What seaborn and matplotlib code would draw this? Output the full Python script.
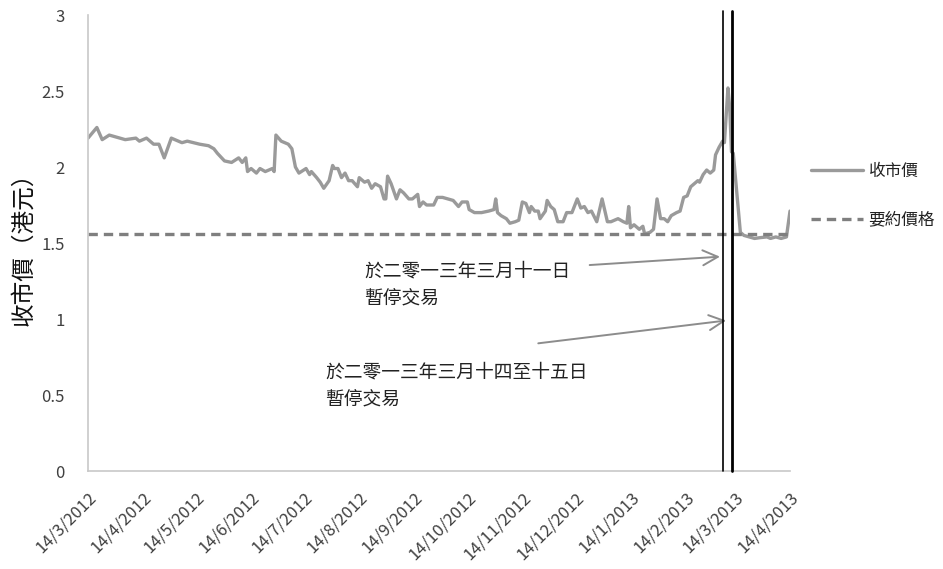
import numpy as np
import pandas as pd
import matplotlib
matplotlib.use("Agg")
import matplotlib.pyplot as plt
import seaborn as sns
from matplotlib.lines import Line2D

# ---- data -------------------------------------------------------------
START = pd.Timestamp("2012-03-14")

# trading day offsets from 14/3/2012 and closing price (HK$)
day_offset = [
    0, 5, 8, 12, 21, 27, 29, 33, 37, 40, 43, 47, 53, 56, 63, 68, 71, 73,
    77, 81, 85, 87, 89, 90, 92, 95, 97, 100, 104, 105, 106, 109, 113, 115,
    117, 119, 123, 125, 126, 129, 131, 133, 136, 138, 139, 141, 143, 145,
    147, 149, 152, 153, 156, 158, 160, 162, 165, 167, 168, 169, 171, 174,
    176, 178, 181, 183, 186, 187, 189, 191, 195, 197, 200, 203, 206, 209,
    211, 214, 215, 218, 222, 226, 229, 230, 231, 233, 236, 238, 241, 243,
    245, 247, 249, 250, 252, 254, 255, 258, 259, 261, 263, 265, 268, 270,
    273, 276, 278, 280, 282, 284, 287, 290, 291, 293, 295, 299, 302, 304,
    305, 306, 308, 311, 313, 314, 317, 319, 321, 323, 325, 327, 329, 332,
    334, 336, 338, 340, 341, 344, 345, 347, 349, 351, 353, 354, 356, 358,
    359, 361, 362, 363, 364, 368, 370, 373, 376, 379, 383, 385, 388, 391,
    394, 396,
]
close_price = [
    2.19, 2.26, 2.18, 2.21, 2.18, 2.19, 2.17, 2.19, 2.15, 2.15, 2.06, 2.19,
    2.16, 2.17, 2.15, 2.14, 2.12, 2.09, 2.04, 2.03, 2.06, 2.03, 2.06, 1.97,
    1.99, 1.96, 1.99, 1.97, 1.99, 1.97, 2.21, 2.17, 2.15, 2.12, 2.00, 1.96,
    1.99, 1.95, 1.97, 1.93, 1.90, 1.86, 1.91, 2.01, 1.99, 1.99, 1.93, 1.96,
    1.91, 1.91, 1.87, 1.93, 1.90, 1.91, 1.86, 1.89, 1.87, 1.79, 1.79, 1.94,
    1.89, 1.79, 1.85, 1.83, 1.79, 1.79, 1.82, 1.74, 1.77, 1.75, 1.75, 1.80,
    1.80, 1.79, 1.78, 1.74, 1.77, 1.77, 1.72, 1.70, 1.70, 1.71, 1.72, 1.79,
    1.70, 1.68, 1.66, 1.63, 1.64, 1.65, 1.77, 1.76, 1.70, 1.74, 1.71, 1.71,
    1.66, 1.71, 1.78, 1.74, 1.72, 1.64, 1.64, 1.70, 1.70, 1.79, 1.73, 1.74,
    1.70, 1.71, 1.64, 1.79, 1.74, 1.64, 1.64, 1.66, 1.64, 1.63, 1.74, 1.60,
    1.62, 1.59, 1.61, 1.56, 1.57, 1.59, 1.79, 1.66, 1.66, 1.64, 1.68, 1.70,
    1.71, 1.80, 1.81, 1.87, 1.88, 1.91, 1.90, 1.95, 1.98, 1.96, 1.98, 2.08,
    2.13, 2.17, 2.16, 2.52, 2.39, 2.10, 2.09, 1.57, 1.55, 1.54, 1.53, 1.535,
    1.54, 1.53, 1.54, 1.53, 1.54, 1.71,
]
offer_price = 1.56

# suspension markers (days from start)
halt_days = [358, 363]

tick_labels = [
    "14/3/2012", "14/4/2012", "14/5/2012", "14/6/2012", "14/7/2012",
    "14/8/2012", "14/9/2012", "14/10/2012", "14/11/2012", "14/12/2012",
    "14/1/2013", "14/2/2013", "14/3/2013", "14/4/2013",
]
y_ticks = [0, 0.5, 1, 1.5, 2, 2.5, 3]

note_1 = "於二零一三年三月十一日\n暫停交易"
note_2 = "於二零一三年三月十四至十五日\n暫停交易"

# ---- frame ------------------------------------------------------------
dates = START + pd.to_timedelta(day_offset, unit="D")
df = pd.DataFrame({"date": dates, "close": close_price})
df["offer"] = offer_price

sns.set_theme(style="white")
plt.rcParams["font.family"] = ["Noto Sans CJK TC", "DejaVu Sans"]

fig = plt.figure(figsize=(9.43, 5.69), dpi=100)
ax = fig.add_axes([88 / 943, 1 - 471 / 569, (790 - 88) / 943, (471 - 15) / 569])

price_col = "#9a9a9a"
offer_col = "#7f7f7f"
dash = (0, (2.8, 1.8))

sns.lineplot(data=df, x="date", y="close", ax=ax, color=price_col, lw=2.4)
sns.lineplot(data=df, x="date", y="offer", ax=ax, color=offer_col, lw=2.4,
             linestyle=dash)

for i, d in enumerate(halt_days):
    ax.axvline(START + pd.Timedelta(days=d), ymin=0, ymax=1.008,
               color="black", lw=1.2 if i == 0 else 2.0, clip_on=False, zorder=5)

ax.set_xlim(START, START + pd.Timedelta(days=396))
ax.set_ylim(0, 3)
tick_dates = [pd.to_datetime(t, format="%d/%m/%Y") for t in tick_labels]
ax.set_xticks(tick_dates)
ax.set_xticklabels(tick_labels, rotation=45, ha="right", rotation_mode="anchor",
                   fontsize=12, color="#404040")
ax.set_yticks(y_ticks)
ax.set_yticklabels([f"{v:g}" for v in y_ticks], fontsize=12, color="#404040")
ax.tick_params(axis="x", pad=13, length=0)
ax.tick_params(axis="y", pad=17, length=0)

ax.set_xlabel("")
ax.set_ylabel("收市價（港元）", fontsize=17, color="#111111", labelpad=4)
for s in ["top", "right"]:
    ax.spines[s].set_visible(False)
for s in ["left", "bottom"]:
    ax.spines[s].set_color("#c8c8c8")
    ax.spines[s].set_linewidth(1.2)

# ---- notes and arrows -------------------------------------------------
def day(d):
    return START + pd.Timedelta(days=d)

ax.text(day(156), 1.385, note_1, fontsize=13.5, va="top", ha="left",
        color="#222222", linespacing=1.4)
ax.text(day(134), 0.72, note_2, fontsize=13.5, va="top", ha="left",
        color="#222222", linespacing=1.4)
arrow = dict(arrowstyle="->,head_length=0.9,head_width=0.45", color="#8c8c8c", lw=1.4,
             shrinkA=0, shrinkB=0)
ax.annotate("", xy=(day(356.5), 1.41), xytext=(day(283), 1.355), arrowprops=arrow)
ax.annotate("", xy=(day(360), 0.99), xytext=(day(254), 0.84), arrowprops=arrow)

# ---- legend -----------------------------------------------------------
handles = [
    Line2D([], [], color=price_col, lw=2.4),
    Line2D([], [], color=offer_col, lw=2.4, linestyle=dash),
]
fig.legend(handles, ["收市價", "要約價格"], loc="upper left",
           bbox_to_anchor=(796 / 943, 1 - 148 / 569), frameon=False,
           fontsize=12, handlelength=3.1, handletextpad=0.35,
           labelspacing=1.9, labelcolor="#222222")

fig.savefig("out.png", dpi=100)
